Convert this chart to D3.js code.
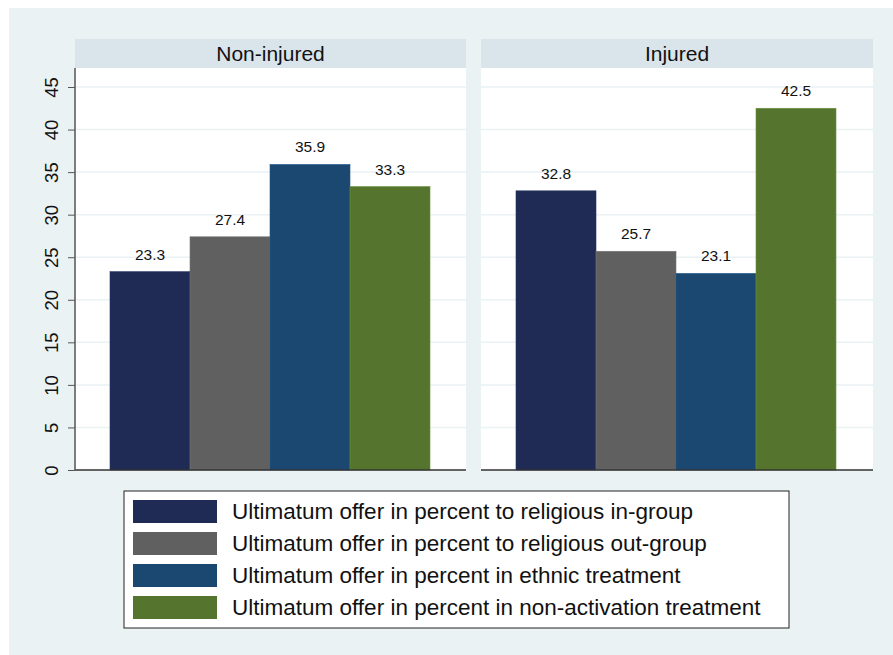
<!DOCTYPE html>
<html>
<head>
<meta charset="utf-8">
<style>
  body { margin: 0; background: #fff; font-family: "Liberation Sans", Arial, sans-serif; }
  svg text { fill: #111; }
</style>
</head>
<body>
<script src="https://d3js.org/d3.v7.min.js"></script>
<script>
// data
var panels = ["Non-injured", "Injured"];
var seriesNames = [
  "Ultimatum offer in percent to religious in-group",
  "Ultimatum offer in percent to religious out-group",
  "Ultimatum offer in percent in ethnic treatment",
  "Ultimatum offer in percent in non-activation treatment"
];
var nonInjured = [23.3, 27.4, 35.9, 33.3];
var injured = [32.8, 25.7, 23.1, 42.5];
var yTicks = [0, 5, 10, 15, 20, 25, 30, 35, 40, 45];
var colors = ["#1f2b54", "#606060", "#1b4870", "#55752f"];

var W = 893, H = 655;
var svg = d3.select("body").append("svg").attr("width", W).attr("height", H);

// outer background
svg.append("rect").attr("x", 9).attr("y", 8).attr("width", W - 9).attr("height", H - 8)
    .attr("fill", "#eaf2f3");

var plotTop = 68, plotBottom = 470;
var y = d3.scaleLinear().domain([0, 45]).range([plotBottom, 87]);

var panelX = [[75, 466], [481, 873]];
var values = [nonInjured, injured];

// y axis
var yAxis = svg.append("g").attr("transform", "translate(75,0)")
    .call(d3.axisLeft(y).tickValues(yTicks).tickSize(7).tickPadding(4));
yAxis.select(".domain").remove();
yAxis.selectAll("line").attr("stroke", "#555");
yAxis.selectAll("text").remove();
yAxis.selectAll(".tick").append("text")
    .attr("transform", "translate(-17,0) rotate(-90)")
    .attr("text-anchor", "middle")
    .attr("font-size", 18.5)
    .style("fill", "#111")
    .text(function(d) { return d; });

panels.forEach(function(name, p) {
  var x0 = panelX[p][0], x1 = panelX[p][1];
  var g = svg.append("g");

  // header strip
  g.append("rect").attr("x", x0).attr("y", 39).attr("width", x1 - x0).attr("height", 29)
      .attr("fill", "#d9e5ea");
  g.append("text").attr("x", (x0 + x1) / 2).attr("y", 61)
      .attr("text-anchor", "middle").attr("font-size", 21).text(name);

  // plot area
  g.append("rect").attr("x", x0).attr("y", plotTop).attr("width", x1 - x0)
      .attr("height", plotBottom - plotTop).attr("fill", "#fff");

  // gridlines
  g.selectAll(".grid").data(yTicks.slice(1)).enter().append("line")
      .attr("x1", x0).attr("x2", x1)
      .attr("y1", function(d) { return y(d); }).attr("y2", function(d) { return y(d); })
      .attr("stroke", "#eaf2f3").attr("stroke-width", 1.5);

  var x = d3.scaleBand().domain(d3.range(4)).range([x0 + 35, x0 + 35 + 320]).padding(0);

  g.selectAll(".bar").data(values[p]).enter().append("rect")
      .attr("x", function(d, i) { return x(i); })
      .attr("y", function(d) { return y(d); })
      .attr("width", x.bandwidth())
      .attr("height", function(d) { return plotBottom - y(d); })
      .attr("fill", function(d, i) { return colors[i]; })
      .attr("stroke", function(d, i) { return d3.rgb(colors[i]).brighter(0.6); })
      .attr("stroke-width", 0.6);

  g.selectAll(".lbl").data(values[p]).enter().append("text")
      .attr("x", function(d, i) { return x(i) + x.bandwidth() / 2; })
      .attr("y", function(d) { return y(d) - 12; })
      .attr("text-anchor", "middle").attr("font-size", 15.5)
      .text(function(d) { return d3.format(".1f")(d); });

  // bottom axis line
  g.append("line").attr("x1", x0).attr("x2", x1).attr("y1", plotBottom).attr("y2", plotBottom)
      .attr("stroke", "#333").attr("stroke-width", 1.5);
});

// left axis line
svg.append("line").attr("x1", 75).attr("x2", 75).attr("y1", plotTop).attr("y2", plotBottom)
    .attr("stroke", "#555").attr("stroke-width", 1.5);

// legend
var lg = svg.append("g");
lg.append("rect").attr("x", 124).attr("y", 491).attr("width", 665).attr("height", 137)
    .attr("fill", "#fff").attr("stroke", "#222").attr("stroke-width", 1);
seriesNames.forEach(function(s, i) {
  var ry = 500 + i * 32;
  lg.append("rect").attr("x", 133).attr("y", ry).attr("width", 84).attr("height", 23)
      .attr("fill", colors[i]);
  lg.append("text").attr("x", 232).attr("y", ry + 19).attr("font-size", 22.5).text(s);
});
</script>
</body>
</html>
